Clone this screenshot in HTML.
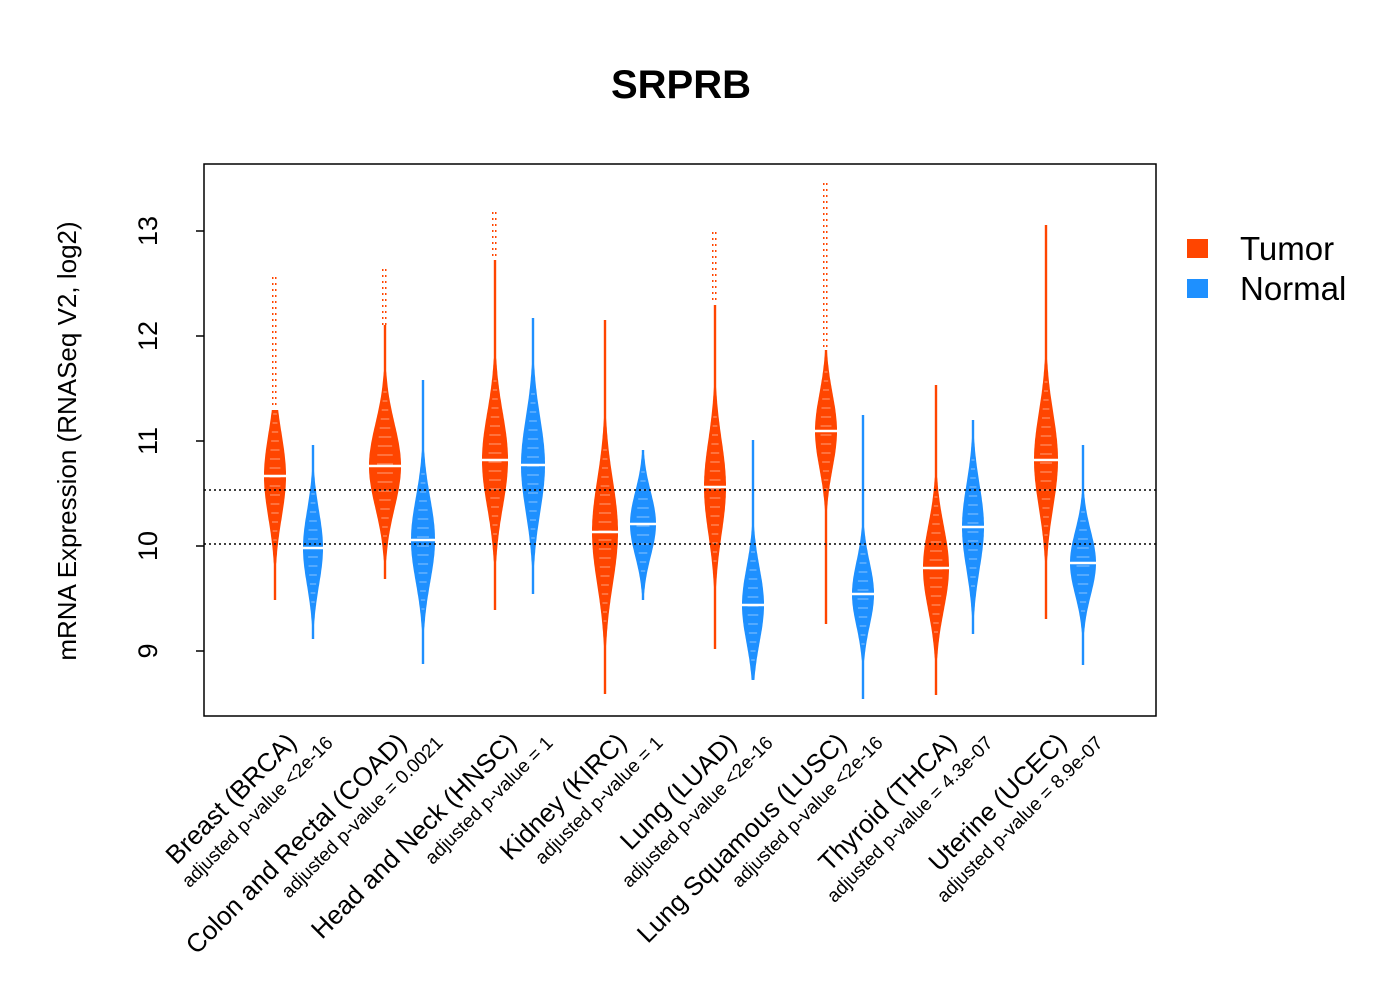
<!DOCTYPE html>
<html><head><meta charset="utf-8"><style>
body{margin:0;background:#fff}
svg{display:block;font-family:"Liberation Sans",Arial,sans-serif}
</style></head><body>
<svg id="s" width="1400" height="1000" xmlns="http://www.w3.org/2000/svg">
<rect width="1400" height="1000" fill="#fff"/>
<text x="681" y="98" font-size="40" font-weight="bold" text-anchor="middle">SRPRB</text>
<g id="v"></g>
<line x1="204" y1="490" x2="1156" y2="490" stroke="#000" stroke-width="1.5" stroke-dasharray="2,3"/>
<line x1="204" y1="544" x2="1156" y2="544" stroke="#000" stroke-width="1.5" stroke-dasharray="2,3"/>
<rect x="204" y="164" width="952" height="552" fill="none" stroke="#000" stroke-width="1.5"/>
<g stroke="#000" stroke-width="1.5">
<line x1="204" y1="231" x2="196" y2="231"/><line x1="204" y1="336" x2="196" y2="336"/>
<line x1="204" y1="441" x2="196" y2="441"/><line x1="204" y1="546" x2="196" y2="546"/>
<line x1="204" y1="651" x2="196" y2="651"/>
</g>
<g font-size="27" text-anchor="middle">
<text transform="translate(157,231) rotate(-90)">13</text>
<text transform="translate(157,336) rotate(-90)">12</text>
<text transform="translate(157,441) rotate(-90)">11</text>
<text transform="translate(157,546) rotate(-90)">10</text>
<text transform="translate(157,651) rotate(-90)">9</text>
</g>
<text transform="translate(76,441) rotate(-90)" font-size="26" text-anchor="middle">mRNA Expression (RNASeq V2, log2)</text>
<rect x="1187" y="239" width="21" height="19" fill="#FF4500"/>
<rect x="1187" y="279" width="21" height="19" fill="#1E90FF"/>
<text x="1240" y="260" font-size="33">Tumor</text>
<text x="1240" y="300" font-size="33">Normal</text>
<g id="lab"></g>
</svg>
<script>
var NS="http://www.w3.org/2000/svg";
var v=document.getElementById('v');
function el(t,a,p){var e=document.createElementNS(NS,t);for(var k in a)e.setAttribute(k,a[k]);(p||v).appendChild(e);return e;}
var T="#FF4500",N="#1E90FF";
var D=[
[275,410,600,476,11,42,278,630,T],[313,445,640,548,10,37,445,640,N],
[385,325,580,466,16,42,270,580,T],[423,380,665,540,12,42,380,665,N],
[495,260,610,460,13,47,213,610,T],[533,318,595,465,12,47,318,595,N],
[605,320,695,532,13,52,320,695,T],[643,450,600,524,13,32,450,600,N],
[715,305,650,487,11,47,233,650,T],[753,440,680,605,11,37,440,680,N],
[826,350,625,431,11,37,184,625,T],[863,415,700,594,11,32,415,700,N],
[936,385,695,568,13,42,385,695,T],[973,420,635,527,11,42,420,635,N],
[1046,225,620,460,12,47,225,620,T],[1083,445,665,563,13,32,445,665,N]];
D.forEach(function(d){
 var x=d[0],a=d[1],b=d[2],m=d[3],W=d[4],s=d[5],c=d[8];
 var L=[],R=[];
 for(var y=a;y<=b;y+=2){var w=Math.max(1.2,W*Math.exp(-Math.pow((y-m)/s,2)/2));L.push((x-w).toFixed(1)+","+y);R.unshift((x+w).toFixed(1)+","+y);}
 el('polygon',{points:L.concat(R).join(' '),fill:c});
 for(var y=a+4;y<b;y+=9){var w=W*Math.exp(-Math.pow((y-m)/s,2)/2);if(w>3)el('line',{x1:x-w*0.5,x2:x+w*0.5,y1:y,y2:y,stroke:'#fff','stroke-width':0.8,opacity:0.6});}
 for(var y=d[6];y<a;y+=6)el('line',{x1:x-3,x2:x+3,y1:y,y2:y,stroke:c,'stroke-width':2,'stroke-dasharray':'1.5,1.5'});
 el('line',{x1:x-W,x2:x+W,y1:m,y2:m,stroke:'#fff','stroke-width':2.5});
});
var lab=document.getElementById('lab');
var names=["Breast (BRCA)","Colon and Rectal (COAD)","Head and Neck (HNSC)","Kidney (KIRC)","Lung (LUAD)","Lung Squamous (LUSC)","Thyroid (THCA)","Uterine (UCEC)"];
var pv=["adjusted p-value <2e-16","adjusted p-value = 0.0021","adjusted p-value = 1","adjusted p-value = 1","adjusted p-value <2e-16","adjusted p-value <2e-16","adjusted p-value = 4.3e-07","adjusted p-value = 8.9e-07"];
for(var i=0;i<8;i++){
 var x=298+110*i;
 var t=el('text',{transform:'translate('+x+',744) rotate(-45)','font-size':26,'text-anchor':'end'},lab);t.textContent=names[i];
 var t2=el('text',{transform:'translate('+(x+36)+',744) rotate(-45)','font-size':19,'text-anchor':'end'},lab);t2.textContent=pv[i];
}
</script>
</body></html>
